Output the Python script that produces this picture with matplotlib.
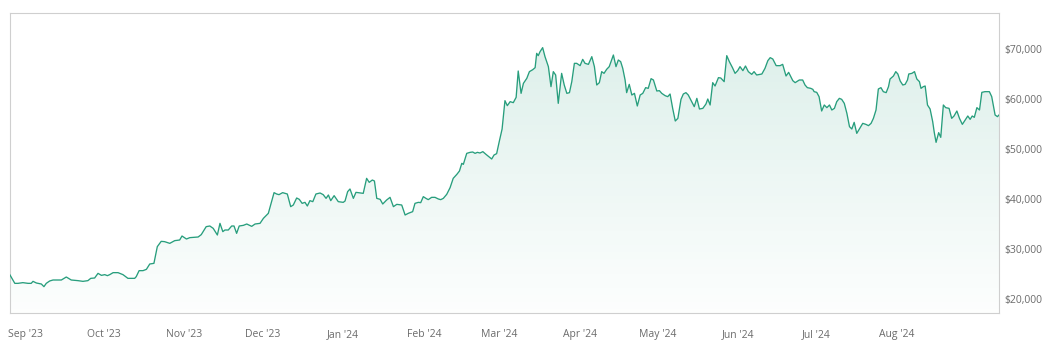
import matplotlib
matplotlib.use("Agg")
import matplotlib.pyplot as plt
import matplotlib.dates as mdates
from matplotlib.ticker import FixedLocator, FuncFormatter
import numpy as np
from datetime import datetime

plt.rcParams['font.family'] = ['Open Sans', 'DejaVu Sans']

# ---------------- data ----------------
start_date = datetime(2023, 9, 1)

# days since start_date (fractional) for each observation
day_offsets = [
    -6.15, -5.4, -4.3, -3.1, -1.2, 0.8, 2.0, 2.7, 4.0, 5.9, 6.9, 7.8, 9.1, 10.4, 13.6, 15.5, 17.4,
    20.0, 21.9, 23.8, 24.9, 26.4, 27.7, 29.0, 30.3, 31.3, 32.2, 33.5, 35.4, 37.3, 39.2, 41.8, 42.4,
    43.5, 45.0, 46.3, 47.6, 49.2, 50.5, 52.0, 53.3, 55.3, 57.2, 59.1, 60.0, 61.7, 63.0, 66.2, 67.4,
    69.3, 70.7,
    72.0, 73.6, 74.6, 75.7, 76.5, 77.8, 79.1, 80.0, 81.0, 82.0, 83.6, 84.9, 86.8, 88.1, 90.0, 91.3,
    93.2, 95.4, 96.4, 97.3, 98.7, 100.5, 101.8, 102.8, 104.1, 105.1, 106.2, 107.3, 108.2, 109.2,
    110.3, 111.5, 113.1, 114.3, 115.4, 116.3, 117.2, 118.5, 120.1, 122.0, 122.7, 123.7, 124.6,
    125.9, 126.9, 129.7, 131.0, 132.0, 133.2, 134.0, 134.9, 136.2, 137.2, 138.7, 140.0, 141.3,
    142.6, 144.5, 145.8, 147.0,
    148.7, 149.6, 150.9, 151.8, 152.8, 153.8, 154.7, 156.0, 157.3, 158.6, 159.5, 160.5, 161.8,
    163.1, 164.3, 165.7, 166.7, 167.6, 168.2, 169.5, 170.8, 171.8, 172.7, 173.6, 174.6, 175.7,
    176.9, 178.5, 179.1, 180.0, 181.0, 182.0, 183.1, 184.2, 185.1, 186.2, 187.4, 188.5, 189.3,
    190.4, 191.3, 192.6, 193.6, 194.9, 195.8, 196.4, 197.0, 197.7, 198.7, 199.6, 200.9, 201.9,
    202.8, 203.7, 204.7, 206.0, 207.0, 208.0, 209.0, 209.9, 210.9, 211.8, 213.1, 214.1, 215.0,
    216.3, 217.6, 218.6, 219.5, 220.5, 221.4, 222.3, 223.3, 224.3,
    225.9, 226.9, 227.8, 228.7, 229.5, 230.4, 231.0, 232.0, 233.0, 234.0, 235.1, 236.2, 237.2,
    238.3, 239.3, 240.4, 241.3, 242.6, 243.6, 244.5, 245.8, 246.8, 247.7, 248.7, 249.7, 250.7,
    251.9, 252.8, 253.8, 254.7, 256.0, 257.0, 258.0, 259.0, 260.3, 261.5, 262.2, 263.1, 264.1,
    265.0, 266.3, 267.2, 268.5, 269.5, 270.5, 271.7, 272.7, 273.7, 274.6, 275.7, 276.7, 277.8,
    279.1, 280.0, 281.0, 283.0, 284.2, 285.3, 286.2, 287.2, 288.5, 290.0, 291.0, 292.3, 293.3,
    294.9, 295.8, 297.4,
    298.7, 299.6, 300.5, 301.8, 302.6, 303.1, 304.1, 305.0, 306.0, 307.0, 308.0, 309.0, 309.9,
    310.9, 311.8, 312.8, 313.7, 314.7, 315.7, 316.7, 317.6, 318.5, 319.5, 320.5, 321.8, 323.0,
    324.0, 325.0, 325.9, 326.9, 327.8, 328.8, 329.7, 330.8, 331.7, 332.3, 333.6, 334.5, 335.3,
    336.2, 337.2, 338.1, 339.0, 339.5, 340.7, 341.7, 342.6, 343.6, 344.2, 345.1, 345.8, 346.7,
    347.7, 348.7, 349.3, 350.0, 351.0, 351.8, 352.8, 353.7, 355.0, 356.0, 356.9, 358.0, 359.0,
    360.1, 361.2, 362.2, 363.1, 363.9, 364.7, 365.7, 366.7, 367.6, 368.8, 370.5, 371.4, 372.7,
    373.6, 374.2,
]

prices = [
    24860, 24190, 23190, 23190, 23330, 23190, 23190, 23590, 23260, 23060, 22530, 23190, 23660,
    23860, 23860, 24460, 23860, 23730, 23590, 23730, 24190, 24260, 25190, 24790, 24930, 24730,
    24930, 25330, 25330, 24930, 24190, 24190, 24530, 25730, 25730, 25990, 27060, 27190, 30530,
    31590, 31530, 31190, 31730, 31860, 32660, 32060, 32330, 32460, 32930, 34530, 34660,
    34190, 32860, 35190, 33530, 33860, 33860, 34660, 34660, 33190, 34660, 34790, 35060, 34590,
    35060, 35190, 36190, 37190, 41330, 41060, 40930, 41330, 41060, 38530, 38860, 40260, 39990,
    39190, 39390, 38660, 39730, 39530, 41060, 41260, 40930, 40190, 40860, 39730, 40730, 39530,
    39390, 39660, 41530, 42060, 40190, 41390, 41190, 44190, 43390, 43860, 43660, 40190, 39990,
    39060, 39860, 40390, 38530, 38990, 38860, 36860, 37190,
    37530, 39190, 39390, 39330, 40530, 40190, 39930, 40390, 40390, 40060, 39930, 40190, 40990,
    42330, 44190, 44990, 45660, 47190, 46990, 49190, 49390, 49460, 49190, 49390, 49260, 49530,
    48990, 48330, 48060, 48860, 49130, 51530, 54060, 59730, 58730, 59530, 59330, 60390, 65660,
    61190, 63190, 64190, 65530, 65930, 66330, 69190, 68730, 69530, 70330, 68530, 66530, 62530,
    65530, 64860, 59190, 65190, 62860, 61190, 61330, 63530, 67190, 67190, 66730, 67990, 67190,
    66990, 68530, 66530, 62860, 63330, 65530, 65190, 65990, 66530,
    68860, 66530, 67860, 67530, 66190, 63860, 61330, 62990, 60860, 61190, 58660, 60860, 61190,
    62330, 62190, 64130, 63860, 61660, 61730, 61190, 60730, 60530, 61060, 58190, 55660, 56190,
    59990, 61060, 61330, 60860, 59530, 58530, 60190, 58060, 58190, 59060, 60060, 58860, 63330,
    62660, 64330, 64260, 63530, 68730, 67530, 66330, 65190, 65730, 66530, 65730, 66660, 65530,
    64990, 65530, 64860, 65060, 66190, 67730, 68330, 68060, 66730, 66730, 66990, 64660, 65390,
    63730, 63330, 63860,
    63860, 62860, 62330, 62190, 61990, 61530, 61390, 60530, 57660, 58860, 58330, 58860, 57860,
    58190, 59530, 60190, 59990, 59190, 57190, 54530, 54060, 55390, 53190, 54060, 55190, 54990,
    54730, 55190, 56190, 57860, 62060, 62330, 61530, 61330, 62530, 64060, 64660, 65530, 65060,
    63660, 62860, 62990, 63860, 65060, 65190, 65530, 64060, 63530, 62190, 62530, 62660, 58860,
    58060, 55530, 53390, 51390, 53330, 52390, 58860, 58330, 58190, 56190, 56660, 57660, 56190,
    54990, 55860, 56660, 55990, 56660, 56390, 58330, 57860, 61390, 61530, 61530, 60530, 56860,
    56530, 56860,
]

tick_months = [
    "2023-09-01", "2023-10-01", "2023-11-01", "2023-12-01", "2024-01-01", "2024-02-01",
    "2024-03-01", "2024-04-01", "2024-05-01", "2024-06-01", "2024-07-01", "2024-08-01",
]
y_ticks = [20000, 30000, 40000, 50000, 60000, 70000]
y_limits = (17200, 77200)
x_limit_days = (-6.15, 374.2)

# ---------------- style ----------------
line_color = '#289e7d'
teal_rgb = (0.16, 0.62, 0.49)
label_color = '#6b6b6b'
frame_color = '#cfcfcf'

base = mdates.date2num(start_date)
x = base + np.array(day_offsets)
y = np.array(prices, dtype=float)
x_lo = base + x_limit_days[0]
x_hi = base + x_limit_days[1]

W, H = 1054, 356
fig = plt.figure(figsize=(W / 100, H / 100), dpi=100)
fig.patch.set_facecolor('white')
ax = fig.add_axes([10 / W, 1 - 313.3 / H, (999 - 10) / W, (313.3 - 13.3) / H])

ax.set_xlim(x_lo, x_hi)
ax.set_ylim(*y_limits)

# gradient fill under the line
n = 256
alpha = np.linspace(0.175, 0.01, n).reshape(-1, 1)
img = np.zeros((n, 1, 4))
img[..., 0] = teal_rgb[0]
img[..., 1] = teal_rgb[1]
img[..., 2] = teal_rgb[2]
img[..., 3] = alpha
im = ax.imshow(img, extent=[x_lo, x_hi, y_limits[0], y_limits[1]], origin='upper',
               aspect='auto', interpolation='bilinear', zorder=1)
poly = ax.fill_between(x, y, y_limits[0], facecolor='none', edgecolor='none')
im.set_clip_path(poly.get_paths()[0], transform=ax.transData)

ax.plot(x, y, color=line_color, lw=0.95, zorder=3, solid_joinstyle='round')

# axes styling
for s in ax.spines.values():
    s.set_color(frame_color)
    s.set_linewidth(0.8)

ax.yaxis.tick_right()
ax.yaxis.set_major_locator(FixedLocator(y_ticks))
ax.yaxis.set_major_formatter(FuncFormatter(lambda v, p: f"${v:,.0f}"))
ax.tick_params(axis='y', length=0, pad=3.6, labelsize=7.5, labelcolor=label_color)

tick_pos = [mdates.datestr2num(d) for d in tick_months]
tick_txt = [mdates.num2date(p).strftime("%b '%y") for p in tick_pos]
ax.set_xticks(tick_pos, labels=tick_txt, va='baseline', fontsize=7.5, color=label_color)
ax.tick_params(axis='x', length=0, pad=17)

ax.set_facecolor('white')
fig.savefig('out.png', dpi=100, facecolor='white')
